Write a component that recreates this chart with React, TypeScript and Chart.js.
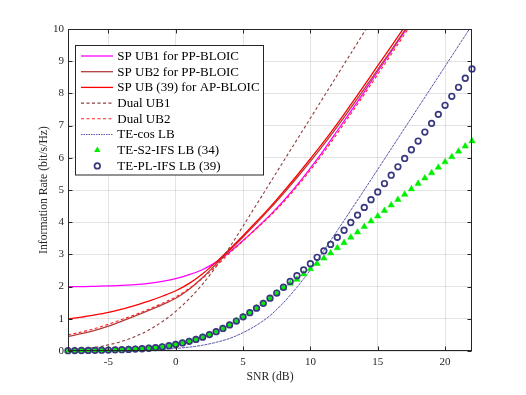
import React, { useEffect, useRef } from "react";
import { Chart, registerables } from "chart.js";

Chart.register(...registerables);

// ---------- data ----------
const seriesLabels = [
  "SP UB1 for PP-BLOIC",
  "SP UB2 for PP-BLOIC",
  "SP UB (39) for AP-BLOIC",
  "Dual UB1",
  "Dual UB2",
  "TE-cos LB",
  "TE-S2-IFS LB (34)",
  "TE-PL-IFS LB (39)",
];

const xTickValues = [-5, 0, 5, 10, 15, 20];
const yTickValues = [0, 1, 2, 3, 4, 5, 6, 7, 8, 9, 10];

const snrCurve = [-8, -7, -6, -5, -4, -3, -2, -1, 0, 1, 2, 3, 4, 5, 6, 7, 8, 9, 10, 11, 12, 13, 14, 15, 16, 17, 18];

const spUb1 = [2.0, 2.0, 2.01, 2.02, 2.04, 2.06, 2.1, 2.16, 2.25, 2.37, 2.53, 2.76, 3.07, 3.43, 3.82, 4.22, 4.66, 5.15, 5.68, 6.24, 6.84, 7.44, 8.05, 8.68, 9.3, 9.92, 10.55];
const spUb2 = [0.45, 0.54, 0.64, 0.77, 0.93, 1.09, 1.26, 1.44, 1.64, 1.92, 2.28, 2.7, 3.12, 3.54, 3.97, 4.42, 4.89, 5.38, 5.89, 6.42, 6.97, 7.55, 8.14, 8.74, 9.34, 9.96, 10.6];
const spUb39 = [1.0, 1.05, 1.12, 1.2, 1.3, 1.42, 1.55, 1.7, 1.87, 2.1, 2.4, 2.76, 3.16, 3.58, 4.02, 4.47, 4.95, 5.45, 5.97, 6.5, 7.06, 7.65, 8.25, 8.86, 9.46, 10.07, 10.7];
const dualUb1 = [0.03, 0.06, 0.11, 0.19, 0.3, 0.45, 0.65, 0.91, 1.23, 1.62, 2.08, 2.62, 3.22, 3.88, 4.55, 5.22, 5.89, 6.56, 7.23, 7.9, 8.57, 9.24, 9.91, 10.58, 11.25, 11.92, 12.6];
const dualUb2 = [0.5, 0.59, 0.7, 0.83, 0.98, 1.13, 1.3, 1.48, 1.68, 1.94, 2.26, 2.64, 3.04, 3.42, 3.8, 4.19, 4.62, 5.1, 5.62, 6.17, 6.76, 7.36, 7.97, 8.59, 9.21, 9.84, 10.47];

const snrCos = [-8, -7, -6, -5, -4, -3, -2, -1, 0, 1, 2, 3, 4, 5, 6, 7, 8, 9, 10, 11, 12, 13, 14, 15, 16, 17, 18, 19, 20, 21, 22];
const teCos = [0.0, 0.003, 0.006, 0.01, 0.015, 0.02, 0.03, 0.05, 0.08, 0.12, 0.18, 0.27, 0.39, 0.57, 0.8, 1.1, 1.5, 1.98, 2.52, 3.12, 3.74, 4.37, 5.0, 5.64, 6.28, 6.92, 7.56, 8.2, 8.84, 9.48, 10.12];

const snrMarker = [
  -8, -7.5, -7, -6.5, -6, -5.5, -5, -4.5, -4, -3.5, -3, -2.5, -2, -1.5, -1, -0.5,
  0, 0.5, 1, 1.5, 2, 2.5, 3, 3.5, 4, 4.5, 5, 5.5, 6, 6.5, 7, 7.5,
  8, 8.5, 9, 9.5, 10, 10.5, 11, 11.5, 12, 12.5, 13, 13.5, 14, 14.5, 15, 15.5,
  16, 16.5, 17, 17.5, 18, 18.5, 19, 19.5, 20, 20.5, 21, 21.5, 22,
];
const teS2 = [
  0.01, 0.012, 0.015, 0.018, 0.02, 0.025, 0.03, 0.035, 0.04, 0.05, 0.06, 0.07, 0.085, 0.105, 0.13, 0.165,
  0.205, 0.25, 0.3, 0.36, 0.43, 0.51, 0.6, 0.7, 0.81, 0.93, 1.06, 1.19, 1.33, 1.48, 1.63, 1.79,
  1.96, 2.1, 2.22, 2.39, 2.55, 2.71, 2.88, 3.04, 3.2, 3.36, 3.53, 3.69, 3.86, 4.03, 4.19, 4.36,
  4.53, 4.7, 4.86, 5.03, 5.2, 5.37, 5.53, 5.7, 5.87, 6.03, 6.2, 6.36, 6.52,
];
const tePl = [
  0.01, 0.012, 0.015, 0.018, 0.02, 0.025, 0.03, 0.035, 0.04, 0.05, 0.06, 0.07, 0.085, 0.105, 0.13, 0.165,
  0.205, 0.25, 0.3, 0.36, 0.43, 0.51, 0.6, 0.7, 0.81, 0.93, 1.06, 1.19, 1.33, 1.48, 1.64, 1.8,
  1.98, 2.16, 2.34, 2.52, 2.71, 2.91, 3.11, 3.31, 3.53, 3.75, 3.99, 4.22, 4.46, 4.7, 4.94, 5.2,
  5.46, 5.72, 5.98, 6.25, 6.52, 6.8, 7.07, 7.35, 7.63, 7.91, 8.19, 8.47, 8.76,
];

// ---------- styling ----------
const FONT = "'Liberation Serif', 'Times New Roman', serif";
const AXIS = "#262626";

const pts = (xs: number[], ys: number[]) => xs.map((x, i) => ({ x, y: ys[i] }));

const framePlugin = {
  id: "matlabFrame",
  afterDraw(chart: any) {
    const { ctx, chartArea: a, scales } = chart;
    ctx.save();
    ctx.strokeStyle = AXIS;
    ctx.lineWidth = 1;
    const L = Math.round(a.left) + 0.5;
    const R = Math.round(a.right) - 0.5;
    const T = Math.round(a.top) + 0.5;
    const B = Math.round(a.bottom) - 0.5;
    ctx.strokeRect(L, T, R - L, B - T);
    const tl = 4;
    ctx.beginPath();
    for (const v of xTickValues) {
      const p = Math.round(scales.x.getPixelForValue(v)) + 0.5;
      ctx.moveTo(p, B);
      ctx.lineTo(p, B - tl);
      ctx.moveTo(p, T);
      ctx.lineTo(p, T + tl);
    }
    for (const v of yTickValues) {
      const p = Math.round(scales.y.getPixelForValue(v)) + 0.5;
      ctx.moveTo(L, p);
      ctx.lineTo(L + tl, p);
      ctx.moveTo(R, p);
      ctx.lineTo(R - tl, p);
    }
    ctx.stroke();

    // legend
    const bx = 75.5, by = 45.5, bw = 188, bh = 129.5;
    ctx.fillStyle = "#ffffff";
    ctx.fillRect(bx, by, bw, bh);
    ctx.strokeStyle = AXIS;
    ctx.lineWidth = 1;
    ctx.strokeRect(bx, by, bw, bh);
    ctx.font = `13px ${FONT}`;
    ctx.textBaseline = "middle";
    ctx.textAlign = "left";
    chart.data.datasets.forEach((ds: any, i: number) => {
      const y = 56 + i * 15.7;
      if (ds.showLine !== false) {
        ctx.save();
        ctx.strokeStyle = ds.borderColor;
        ctx.lineWidth = ds.borderWidth;
        ctx.setLineDash(ds.legendDash || ds.borderDash || []);
        ctx.beginPath();
        ctx.moveTo(81, y);
        ctx.lineTo(113, y);
        ctx.stroke();
        ctx.restore();
      } else {
        const cx = 97.3;
        ctx.save();
        if (ds.pointStyle === "triangle") {
          const r = ds.pointRadius;
          ctx.fillStyle = ds.pointBackgroundColor;
          ctx.beginPath();
          ctx.moveTo(cx, y - r);
          ctx.lineTo(cx + r * 0.866, y + r / 2);
          ctx.lineTo(cx - r * 0.866, y + r / 2);
          ctx.closePath();
          ctx.fill();
        } else {
          ctx.strokeStyle = ds.pointBorderColor;
          ctx.lineWidth = ds.pointBorderWidth;
          ctx.beginPath();
          ctx.arc(cx, y, ds.pointRadius, 0, Math.PI * 2);
          ctx.stroke();
        }
        ctx.restore();
      }
      ctx.fillStyle = "#000000";
      ctx.fillText(seriesLabels[i], 117.3, y + 0.5);
    });
    ctx.restore();
  },
};

export default function App() {
  const ref = useRef<HTMLCanvasElement | null>(null);

  useEffect(() => {
    if (!ref.current) return;
    const lineBase = {
      pointRadius: 0,
      cubicInterpolationMode: "monotone" as const,
      fill: false,
    };
    const chart = new Chart(ref.current, {
      type: "line",
      data: {
        datasets: [
          { ...lineBase, label: seriesLabels[0], data: pts(snrCurve, spUb1), borderColor: "#ff00ff", borderWidth: 1.3, order: 8 },
          { ...lineBase, label: seriesLabels[1], data: pts(snrCurve, spUb2), borderColor: "#b53b3b", borderWidth: 1.3, order: 7 },
          { ...lineBase, label: seriesLabels[2], data: pts(snrCurve, spUb39), borderColor: "#ff0000", borderWidth: 1.3, order: 6 },
          { ...lineBase, label: seriesLabels[3], data: pts(snrCurve, dualUb1), borderColor: "#8f3b3b", borderWidth: 1.1, borderDash: [3, 2.5], order: 5 },
          { ...lineBase, label: seriesLabels[4], data: pts(snrCurve, dualUb2), borderColor: "#ff2020", borderWidth: 1.1, borderDash: [3, 2.5], order: 4 },
          { ...lineBase, label: seriesLabels[5], data: pts(snrCos, teCos), borderColor: "#5858aa", borderWidth: 1, borderDash: [3, 0.8], legendDash: [1.5, 1], order: 3 },
          {
            label: seriesLabels[6], data: pts(snrMarker, teS2), showLine: false, clip: false,
            pointStyle: "triangle", pointRadius: 3.7, pointBackgroundColor: "#00ee00", pointBorderColor: "#00ee00", pointBorderWidth: 0.5,
            borderColor: "#00ee00", order: 2,
          },
          {
            label: seriesLabels[7], data: pts(snrMarker, tePl), showLine: false, clip: false,
            pointStyle: "circle", pointRadius: 2.8, pointBackgroundColor: "rgba(0,0,0,0)", pointBorderColor: "#38387f", pointBorderWidth: 1.7,
            borderColor: "#38387f", order: 1,
          },
        ],
      },
      options: {
        responsive: false,
        animation: false,
        devicePixelRatio: 1,
        layout: { padding: { left: 0, right: 54, top: 29, bottom: 0 } },
        plugins: { legend: { display: false }, tooltip: { enabled: false }, title: { display: false } },
        scales: {
          x: {
            type: "linear",
            min: -8,
            max: 22,
            afterBuildTicks: (s: any) => {
              s.ticks = xTickValues.map((v) => ({ value: v }));
            },
            afterFit: (s: any) => {
              s.height = 44;
            },
            grid: { color: "rgba(38,38,38,0.13)", drawTicks: false, lineWidth: 1 },
            border: { display: false },
            ticks: { font: { family: FONT, size: 11 }, color: AXIS, padding: 5, maxRotation: 0, autoSkip: false },
            title: { display: true, text: "SNR (dB)", font: { family: FONT, size: 11.7 }, color: AXIS, padding: { top: 0, bottom: 11.4 } },
          },
          y: {
            type: "linear",
            min: 0,
            max: 10,
            afterBuildTicks: (s: any) => {
              s.ticks = yTickValues.map((v) => ({ value: v }));
            },
            afterFit: (s: any) => {
              s.width = 68;
            },
            grid: { color: "rgba(38,38,38,0.13)", drawTicks: false, lineWidth: 1 },
            border: { display: false },
            ticks: { font: { family: FONT, size: 11 }, color: AXIS, padding: 4, autoSkip: false },
            title: { display: true, text: "Information Rate (bit/s/Hz)", font: { family: FONT, size: 11.7 }, color: AXIS, padding: { top: 36.5, bottom: 0 } },
          },
        },
      },
      plugins: [framePlugin],
    });
    return () => chart.destroy();
  }, []);

  return (
    <div style={{ position: "absolute", left: 0, top: 0, width: 526, height: 395, background: "#ffffff" }}>
      <canvas ref={ref} width={526} height={395} style={{ display: "block" }} />
    </div>
  );
}
